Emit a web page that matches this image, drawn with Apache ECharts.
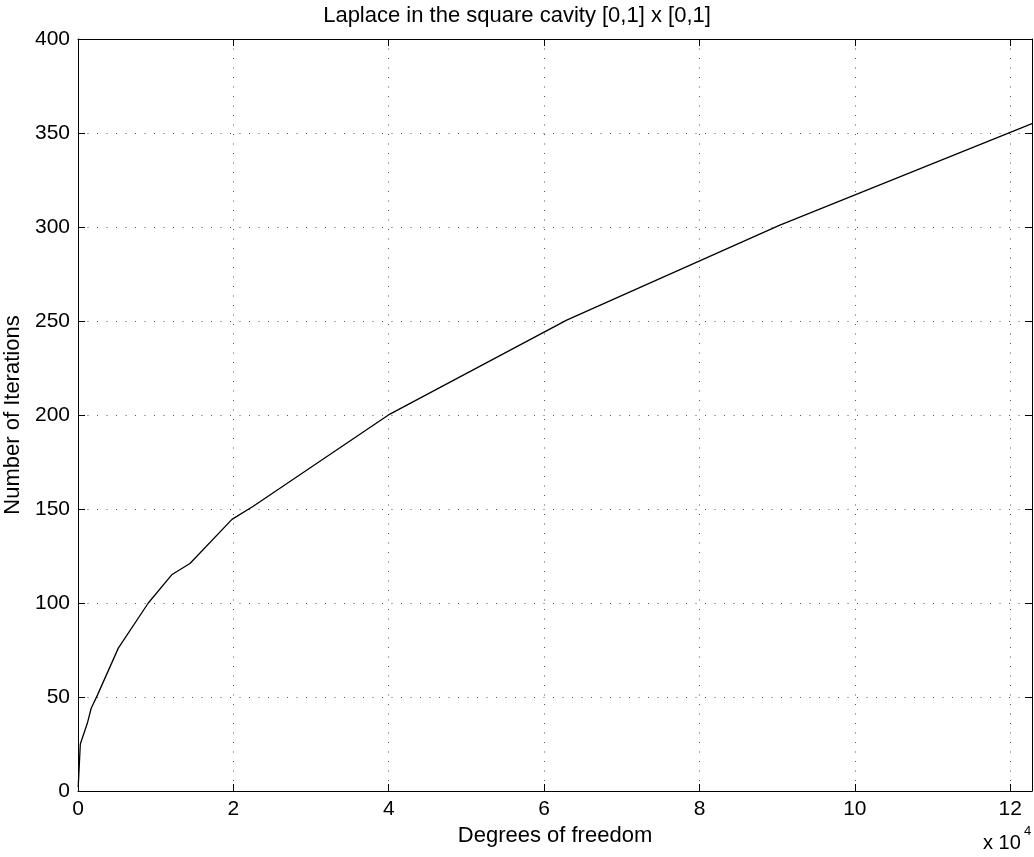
<!DOCTYPE html>
<html>
<head>
<meta charset="utf-8">
<script src="https://cdn.jsdelivr.net/npm/echarts@6/dist/echarts.min.js"></script>
<style>
  html, body { margin: 0; padding: 0; background: #fff; }
  #chart { width: 1034px; height: 857px; }
</style>
</head>
<body>
<div id="chart"></div>
<script>
// Degrees of freedom of each refinement level and the solver's iteration count
const dofs = [25, 300, 1200, 1700, 2500, 5190, 9050, 12060, 14410, 19820, 22560, 40150, 62900, 90350, 122800];
const iterations = [2, 25, 36, 44, 51, 76, 100, 115, 121, 144.5, 151.5, 200.5, 250.5, 301, 355];

// Axis ranges and tick steps
const xMax = 122800;
const xStep = 20000;
const xScale = 1e4;
const yMax = 400;
const yStep = 50;

const titleText = 'Laplace in the square cavity [0,1] x [0,1]';
const xLabel = 'Degrees of freedom';
const yLabel = 'Number of Iterations';
const xExponent = '4';

const points = dofs.map((d, i) => [d, iterations[i]]);

const font = 'Liberation Sans, Arial, Helvetica, sans-serif';
const tickFont = 21;
const nameFont = 22;
const gridDots = { show: true, lineStyle: { color: '#555', width: 1, type: [1, 8.5] } };
const frameTicks = { show: true, inside: true, length: 7, lineStyle: { color: '#000' } };

const chart = echarts.init(document.getElementById('chart'), null, { renderer: 'canvas' });

chart.setOption({
  animation: false,
  backgroundColor: '#fff',
  title: {
    text: titleText,
    left: 'center',
    top: 0,
    textStyle: { fontFamily: font, fontSize: 22, fontWeight: 'normal', color: '#000' }
  },
  grid: { left: 78, right: 2, top: 39, bottom: 66, containLabel: false, outerBoundsMode: 'none' },
  xAxis: [
    {
      type: 'value', min: 0, max: xMax, interval: xStep, position: 'bottom',
      name: xLabel, nameLocation: 'middle', nameGap: 27,
      nameTextStyle: { fontFamily: font, fontSize: nameFont, color: '#000' },
      axisLine: { show: true, onZero: false, lineStyle: { color: '#000', width: 1 } },
      axisTick: frameTicks,
      axisLabel: {
        fontFamily: font, fontSize: tickFont, color: '#000', margin: 8,
        showMaxLabel: false,
        formatter: v => String(v / xScale)
      },
      splitLine: gridDots
    },
    {
      type: 'value', min: 0, max: xMax, interval: xStep, position: 'top',
      axisLine: { show: true, onZero: false, lineStyle: { color: '#000', width: 1 } },
      axisTick: frameTicks,
      axisLabel: { show: false },
      splitLine: { show: false }
    }
  ],
  yAxis: [
    {
      type: 'value', min: 0, max: yMax, interval: yStep, position: 'left',
      name: yLabel, nameLocation: 'middle', nameGap: 47, nameRotate: 90,
      nameTextStyle: { fontFamily: font, fontSize: nameFont, color: '#000' },
      axisLine: { show: true, onZero: false, lineStyle: { color: '#000', width: 1 } },
      axisTick: frameTicks,
      axisLabel: { fontFamily: font, fontSize: tickFont, color: '#000', margin: 8 },
      splitLine: gridDots
    },
    {
      type: 'value', min: 0, max: yMax, interval: yStep, position: 'right',
      axisLine: { show: true, onZero: false, lineStyle: { color: '#000', width: 1 } },
      axisTick: frameTicks,
      axisLabel: { show: false },
      splitLine: { show: false }
    }
  ],
  series: [{
    type: 'line',
    data: points,
    showSymbol: false,
    clip: true,
    lineStyle: { color: '#000', width: 1.3 },
    xAxisIndex: 0,
    yAxisIndex: 0
  }],
  graphic: [
    {
      type: 'text',
      x: 983, y: 843,
      style: {
        text: 'x 10', fontFamily: font, fontSize: 20, fill: '#000',
        textVerticalAlign: 'middle', verticalAlign: 'middle'
      }
    },
    {
      type: 'text',
      x: 1024, y: 831,
      style: {
        text: xExponent, fontFamily: font, fontSize: 13, fill: '#000',
        textVerticalAlign: 'middle', verticalAlign: 'middle'
      }
    }
  ]
});
</script>
</body>
</html>
